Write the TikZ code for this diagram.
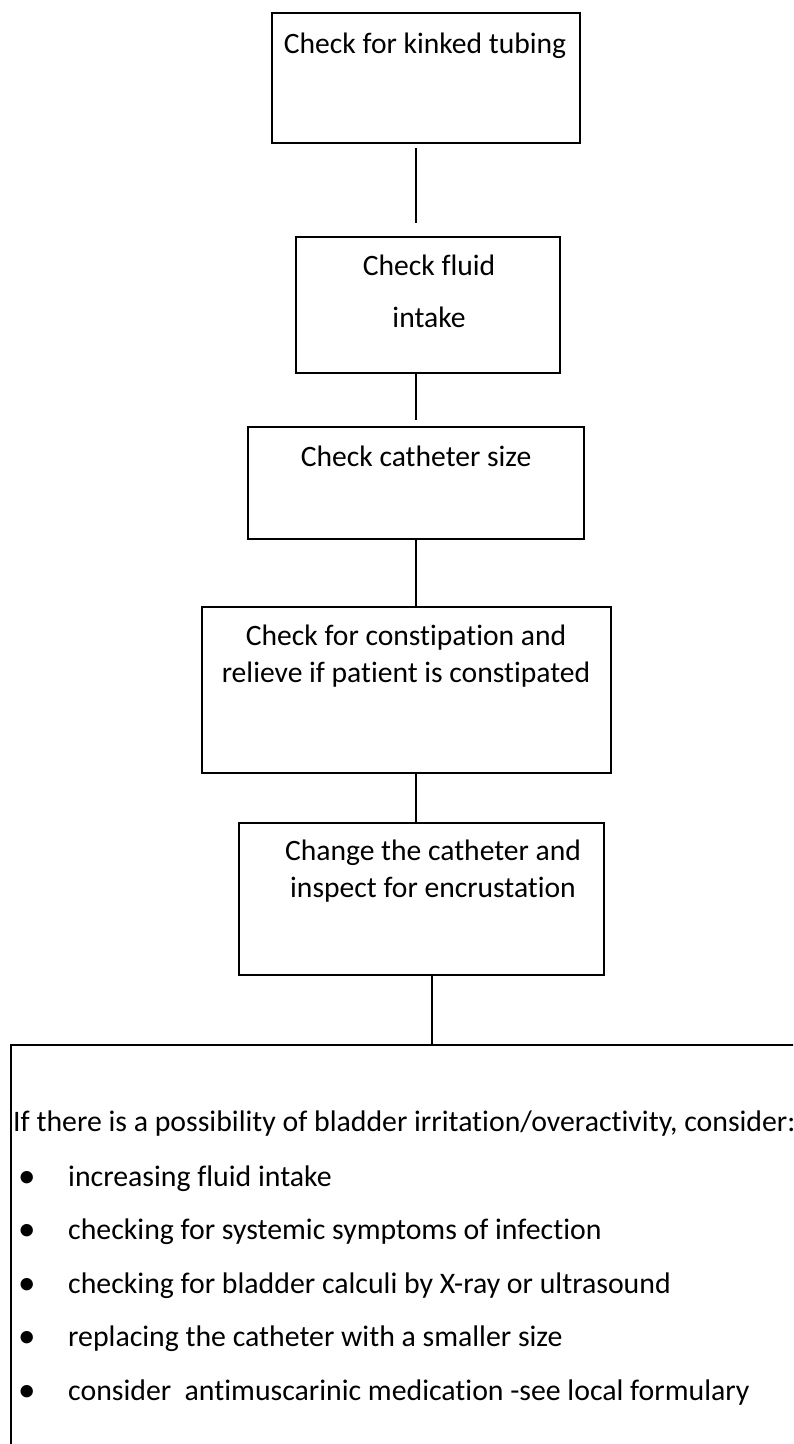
\documentclass[tikz,border=0pt]{standalone}
\usepackage{fontspec}
\setmainfont{Carlito}[Ligatures=CommonOff]
\usetikzlibrary{positioning}

\newcommand{\listbullet}{\makebox[55pt][l]{\hspace{5pt}{\fontsize{35}{0}\selectfont\raisebox{-1pt}{\textbullet}}}}

\begin{document}
\begin{tikzpicture}[x=1pt, y=-1pt,
    stepbox/.style={rectangle, draw, line width=2pt, inner sep=0pt},
    steptext/.style={font=\fontsize{29.6}{37}\selectfont, align=center, inner sep=0pt, anchor=base},
    listtext/.style={font=\fontsize{29.8}{53.4}\selectfont, align=left, inner sep=0pt, anchor=base west},
    link/.style={line width=1.5pt}
]
\useasboundingbox (0,0) rectangle (793,1444);
\clip (0,0) rectangle (793,1444);

% boxes of the check sequence
\node[stepbox, minimum width=308pt, minimum height=130pt] (kinked) at (426,78) {};
\node[stepbox, minimum width=264pt, minimum height=136pt] (fluid) at (428,305) {};
\node[stepbox, minimum width=336pt, minimum height=112pt] (size) at (416,483) {};
\node[stepbox, minimum width=409pt, minimum height=166pt] (constip) at (406.5,690) {};
\node[stepbox, minimum width=365pt, minimum height=152pt] (change) at (421.5,899) {};
\node[stepbox, line width=1.5pt, minimum width=820pt, minimum height=440pt, anchor=north west] (advice) at (10,1044) {};

% texts (base = last line)
\node[steptext] (kinkedtext) at (425,53) {Check for kinked tubing};
\node[steptext] (fluidtext) at (429,327) {Check fluid\\[15pt]intake};
\node[steptext] (sizetext) at (416,466) {Check catheter size};
\node[steptext] (constiptext) at (406,682) {Check for constipation and\\relieve if patient is constipated};
\node[steptext] (changetext) at (433,897) {Change the catheter and\\inspect for encrustation};
\node[listtext] (advicetext) at (13,1400) {If there is a possibility of bladder irritation/overactivity, consider:\\[1.6pt]
    \listbullet increasing fluid intake\\
    \listbullet checking for systemic symptoms of infection\\
    \listbullet checking for bladder calculi by X-ray or ultrasound\\
    \listbullet replacing the catheter with a smaller size\\
    \listbullet consider~~antimuscarinic medication -see local formulary};

% connectors
\coordinate (axis) at (416,0);
\coordinate (axislow) at (432,0);
\draw[link, shorten <=4pt, shorten >=13pt] (kinked.south -| axis) -- (fluid.north -| axis);
\draw[link, shorten >=6pt] (fluid.south -| axis) -- (size.north -| axis);
\draw[link] (size.south -| axis) -- (constip.north -| axis);
\draw[link] (constip.south -| axis) -- (change.north -| axis);
\draw[link] (change.south -| axislow) -- (advice.north -| axislow);

\end{tikzpicture}
\end{document}
